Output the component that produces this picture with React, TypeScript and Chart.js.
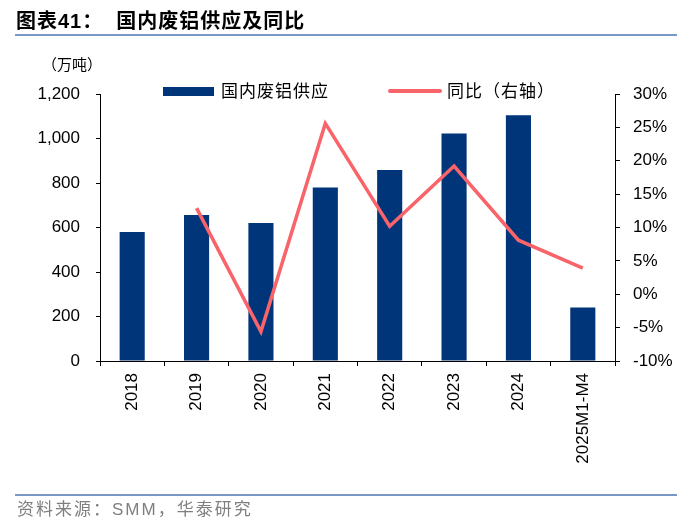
import React, { useEffect, useRef } from "react";
import { Chart, registerables } from "chart.js";

Chart.register(...registerables);

const categories = ["2018", "2019", "2020", "2021", "2022", "2023", "2024", "2025M1-M4"];
const supplyValues = [580, 656, 620, 780, 858, 1023, 1105, 241];
const yoyValues = [null, 12.9, -5.6, 25.6, 10.2, 19.2, 8.1, 3.9];
const leftTicks = [0, 200, 400, 600, 800, 1000, 1200];
const rightTicks = [-10, -5, 0, 5, 10, 15, 20, 25, 30];

const BAR_COLOR = "#00357A";
const LINE_COLOR = "#F9646A";
const NUM_FONT = "'Liberation Sans', Arial, sans-serif";
const CJK_FONT = "'Liberation Sans', 'Noto Sans CJK SC', sans-serif";

export default function App() {
  const canvasRef = useRef<HTMLCanvasElement | null>(null);

  useEffect(() => {
    const canvas = canvasRef.current;
    if (!canvas) return;
    const chart = new Chart(canvas, {
      type: "bar",
      data: {
        labels: categories,
        datasets: [
          {
            type: "line",
            label: "同比（右轴）",
            data: yoyValues as any,
            yAxisID: "y1",
            borderColor: LINE_COLOR,
            backgroundColor: LINE_COLOR,
            borderWidth: 3.5,
            pointRadius: 0,
            tension: 0,
            order: 0,
          } as any,
          {
            type: "bar",
            label: "国内废铝供应",
            data: supplyValues,
            yAxisID: "y",
            backgroundColor: BAR_COLOR,
            borderWidth: 0,
            categoryPercentage: 1,
            barPercentage: 0.39,
            order: 1,
          } as any,
        ],
      },
      options: {
        responsive: false,
        animation: false,
        devicePixelRatio: 1,
        layout: { padding: { top: 94, bottom: 0, left: 0, right: 0 } },
        plugins: { legend: { display: false }, tooltip: { enabled: false } },
        scales: {
          x: {
            type: "category",
            offset: true,
            grid: {
              display: true,
              drawOnChartArea: false,
              drawTicks: true,
              tickLength: 5,
              color: "#000",
              offset: true,
            },
            border: { display: true, color: "#000", width: 1 },
            ticks: {
              minRotation: 90,
              maxRotation: 90,
              autoSkip: false,
              color: "#000",
              padding: 7,
              font: { family: NUM_FONT, size: 17 },
            },
            afterFit: (s: any) => {
              s.height = 168;
            },
          },
          y: {
            type: "linear",
            position: "left",
            min: 0,
            max: 1200,
            afterBuildTicks: (s: any) => {
              s.ticks = leftTicks.map((v) => ({ value: v }));
            },
            grid: {
              display: true,
              drawOnChartArea: false,
              drawTicks: true,
              tickLength: 4,
              color: "#000",
            },
            border: { display: true, color: "#000", width: 1 },
            ticks: {
              color: "#000",
              padding: 16,
              font: { family: NUM_FONT, size: 17 },
              callback: (v: any) => Number(v).toLocaleString("en-US"),
            },
            afterFit: (s: any) => {
              s.width = 100;
            },
          },
          y1: {
            type: "linear",
            position: "right",
            min: -10,
            max: 30,
            afterBuildTicks: (s: any) => {
              s.ticks = rightTicks.map((v) => ({ value: v }));
            },
            grid: {
              display: true,
              drawOnChartArea: false,
              drawTicks: true,
              tickLength: 5,
              color: "#000",
            },
            border: { display: true, color: "#000", width: 1 },
            ticks: {
              color: "#000",
              padding: 13,
              font: { family: NUM_FONT, size: 17 },
              callback: (v: any) => v + "%",
            },
            afterFit: (s: any) => {
              s.width = 85;
            },
          },
        },
      },
    });
    return () => chart.destroy();
  }, []);

  return (
    <div
      style={{
        position: "absolute",
        left: 0,
        top: 0,
        width: 700,
        height: 529,
        background: "#fff",
        overflow: "hidden",
        fontFamily: CJK_FONT,
      }}
    >
      <canvas
        ref={canvasRef}
        width={700}
        height={529}
        style={{ position: "absolute", left: 0, top: 0, width: 700, height: 529 }}
      />
      <div
        style={{
          position: "absolute",
          left: 16,
          top: 7,
          fontSize: 20,
          fontWeight: 700,
          color: "#000",
          whiteSpace: "nowrap",
          lineHeight: "28px",
          letterSpacing: 1,
        }}
      >
        图表41：&nbsp;&nbsp;国内废铝供应及同比
      </div>
      <div
        style={{
          position: "absolute",
          left: 15,
          top: 34,
          width: 662,
          height: 2,
          background: "#7A98C6",
        }}
      />
      <div
        style={{
          position: "absolute",
          left: 42,
          top: 54,
          fontSize: 15,
          color: "#000",
          whiteSpace: "nowrap",
          lineHeight: "22px",
        }}
      >
        （万吨）
      </div>
      <div
        style={{
          position: "absolute",
          left: 163,
          top: 87,
          width: 51,
          height: 9,
          background: BAR_COLOR,
        }}
      />
      <div
        style={{
          position: "absolute",
          left: 221,
          top: 80,
          fontSize: 17,
          letterSpacing: 1,
          color: "#000",
          whiteSpace: "nowrap",
          lineHeight: "24px",
        }}
      >
        国内废铝供应
      </div>
      <div
        style={{
          position: "absolute",
          left: 388,
          top: 89,
          width: 54,
          height: 4,
          borderRadius: 2,
          background: LINE_COLOR,
        }}
      />
      <div
        style={{
          position: "absolute",
          left: 447,
          top: 80,
          fontSize: 17,
          letterSpacing: 1,
          color: "#000",
          whiteSpace: "nowrap",
          lineHeight: "24px",
        }}
      >
        同比（右轴）
      </div>
      <div
        style={{
          position: "absolute",
          left: 15,
          top: 494,
          width: 662,
          height: 2,
          background: "#7A98C6",
        }}
      />
      <div
        style={{
          position: "absolute",
          left: 17,
          top: 498,
          fontSize: 17,
          letterSpacing: 2,
          color: "#7F7F7F",
          whiteSpace: "nowrap",
          lineHeight: "24px",
        }}
      >
        资料来源：SMM，华泰研究
      </div>
    </div>
  );
}
